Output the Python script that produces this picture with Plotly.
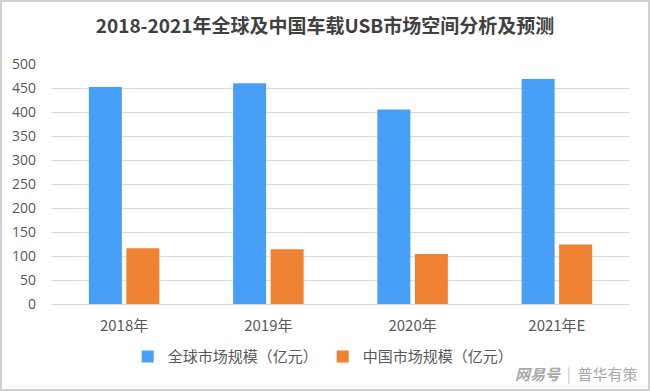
import plotly.graph_objects as go

categories = ["2018年", "2019年", "2020年", "2021年E"]
global_values = [452, 460, 405, 469]
china_values = [116, 114, 104, 124]
series_names = ["全球市场规模（亿元）", "中国市场规模（亿元）"]
title_text = "2018-2021年全球及中国车载USB市场空间分析及预测"

W, H = 650, 391
ml, mr, mt, mb = 52, 21, 64, 87
pw, ph = W - ml - mr, H - mt - mb

font_cjk = "Noto Sans CJK SC, Microsoft YaHei, sans-serif"

fig = go.Figure()
fig.add_trace(go.Bar(x=categories, y=global_values, name=series_names[0],
                     marker=dict(color="#479ff8", line=dict(width=0))))
fig.add_trace(go.Bar(x=categories, y=china_values, name=series_names[1],
                     marker=dict(color="#ef8233", line=dict(width=0))))

fig.update_layout(
    width=W, height=H,
    margin=dict(l=ml, r=mr, t=mt, b=mb),
    paper_bgcolor="white", plot_bgcolor="white",
    barmode="group", bargap=0.48, bargroupgap=0.12,
    title=dict(text="<b>" + title_text + "</b>", x=0.5, xanchor="center",
               y=1 - 26 / H, yanchor="middle",
               font=dict(family=font_cjk, size=19, color="#404040")),
    font=dict(family=font_cjk, color="#595959"),
    legend=dict(orientation="h", x=0.47, xanchor="center", y=-0.22, yanchor="middle",
                font=dict(family=font_cjk, size=15, color="#595959"),
                itemwidth=30, traceorder="normal", bgcolor="rgba(0,0,0,0)"),
    showlegend=True,
)
fig.update_xaxes(showgrid=False, showline=True, linecolor="#d9d9d9", linewidth=1,
                 ticks="", ticklabelstandoff=8,
                 tickfont=dict(family=font_cjk, size=15, color="#595959"))
fig.update_yaxes(range=[0, 500], dtick=50, showgrid=True, gridcolor="#d9d9d9", gridwidth=1,
                 zeroline=False, showline=False, ticks="",
                 tickfont=dict(family="Open Sans, sans-serif", size=14, color="#595959"),
                 ticklabelstandoff=15)

# outer frame
fig.add_shape(type="rect", xref="paper", yref="paper",
              x0=-(ml - 1) / pw, x1=(W - ml - 1) / pw,
              y0=-(mb - 1) / ph, y1=1 + (mt - 1) / ph,
              line=dict(color="#d0d0d0", width=2), fillcolor="rgba(0,0,0,0)", layer="below")

# watermark
fig.add_annotation(xref="paper", yref="paper", x=(640 - ml) / pw, y=(H - mb - 373) / ph,
                   text="<b><i>网易号</i></b>  <span style='color:#c8c8c8'>|</span>  普华有策",
                   showarrow=False, xanchor="right", yanchor="middle",
                   font=dict(family=font_cjk, size=15, color="#a8a8a8"))

fig.write_html("out.html", config={"displayModeBar": False},
               post_script="document.body.style.margin='0';document.body.style.padding='0';")
